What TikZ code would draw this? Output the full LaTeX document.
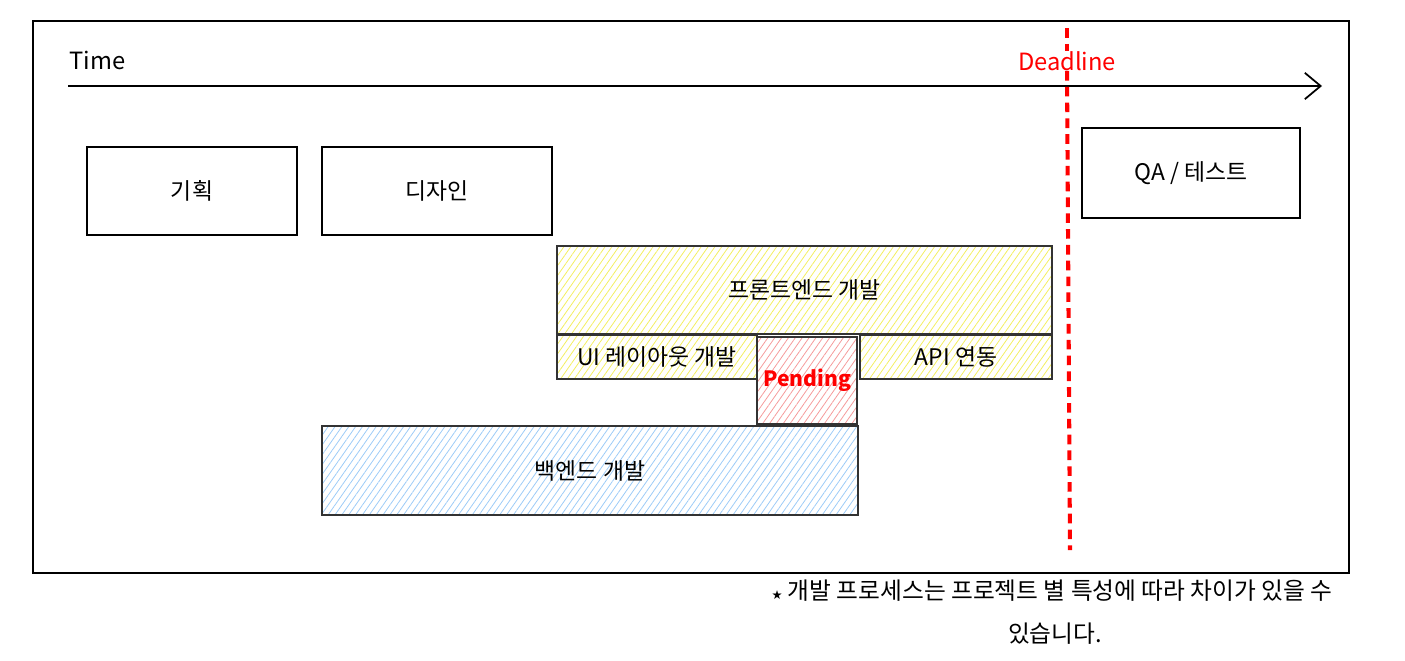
\documentclass[tikz,border=0pt]{standalone}
\usepackage{fontspec}
\setmainfont{Noto Sans CJK KR}
\newfontfamily\symfont{DejaVu Sans}
\usepackage{xcolor}
\usetikzlibrary{arrows.meta,positioning,patterns.meta}

\definecolor{hatchyellow}{HTML}{F3EE60}
\definecolor{hatchblue}{HTML}{9CCBF7}
\definecolor{hatchred}{HTML}{F59A9A}
\definecolor{edgegray}{HTML}{333333}

\begin{document}
\begin{tikzpicture}[
  x=0.02cm, y=-0.02cm,
  every node/.style={font=\fontsize{13}{15}\selectfont},
  box/.style={draw, line width=0.8pt, align=center, inner sep=2pt},
  task/.style={box, draw=edgegray, line width=0.7pt},
  yellowtask/.style={task, pattern={Lines[angle=55,distance=3.2pt,line width=0.45pt]}, pattern color=hatchyellow},
  bluetask/.style={task, pattern={Lines[angle=55,distance=3.2pt,line width=0.45pt]}, pattern color=hatchblue},
  redtask/.style={task, pattern={Lines[angle=55,distance=3.2pt,line width=0.45pt]}, pattern color=hatchred},
  label/.style={font=\fontsize{13.5}{15}\selectfont, inner sep=0pt},
  deadline/.style={red, line width=2.3pt, dash pattern=on 5.5pt off 3.5pt},
  >={Straight Barb[length=9pt,width=15pt]}
]
\useasboundingbox (0,0) rectangle (1405,660);

% frame
\draw[line width=0.9pt] (33,21) rectangle (1349,573);

% time axis
\node[label, anchor=west] (time) at (69,60) {Time};
\coordinate (t0) at (68,86);
\coordinate (t1) at (1322,86);
\draw[->, line width=1pt] (t0) -- (t1);

% deadline
\node[label, text=red] (dl) at (1067,61) {Deadline};
\coordinate (dltop) at (1067,28);
\coordinate (dlbot) at (1070,550);
\draw[deadline] (dltop) -- (dl.north);
\draw[deadline] (dl.south) -- (dlbot);

% phases
\node[box, minimum width=4.2cm, minimum height=1.76cm] (plan) at (192,191) {기획};
\node[box, minimum width=4.6cm, minimum height=1.76cm] (design) at (437,191) {디자인};
\node[box, minimum width=4.36cm, minimum height=1.8cm] (qa) at (1191,173) {QA / 테스트};

% development
\node[yellowtask, minimum width=9.9cm, minimum height=1.76cm] (front) at (804.5,290) {프론트엔드 개발};
\node[yellowtask, minimum width=4.0cm, minimum height=0.88cm] (layout) at (657,357) {UI 레이아웃 개발};
\node[redtask, minimum width=2.0cm, minimum height=1.74cm, text=red, font=\fontsize{12}{14}\selectfont\bfseries] (pending) at (807,380.5) {Pending};
\node[yellowtask, minimum width=3.84cm, minimum height=0.88cm] (api) at (956,357) {API 연동};
\node[bluetask, minimum width=10.72cm, minimum height=1.78cm] (back) at (590,470.5) {백엔드 개발};

% note
\node[font=\fontsize{13.5}{15}\selectfont] (note1) at (1052,591) {{\symfont\scriptsize ★} 개발 프로세스는 프로젝트 별 특성에 따라 차이가 있을 수};
\node[font=\fontsize{13.5}{15}\selectfont] (note2) at (1055,634) {있습니다.};
\end{tikzpicture}
\end{document}
